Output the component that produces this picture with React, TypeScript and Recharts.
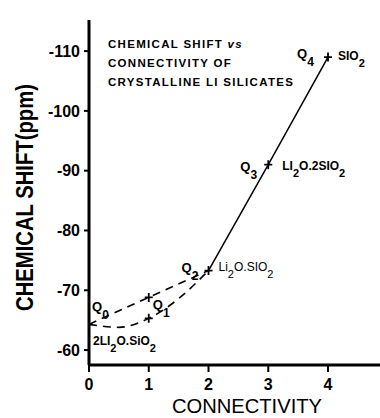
import { ComposedChart, Line, Scatter, XAxis, YAxis } from 'recharts'

const FONT = '"Liberation Sans", Arial, Helvetica, sans-serif'

// x = connectivity, y = 29Si chemical shift (ppm)
const connTicks = [0, 1, 2, 3, 4]
const shiftTicks = [-110, -100, -90, -80, -70, -60]

const upperConn = [0, 1, 2]
const upperShift = [-64.3, -68.8, -73.3]

const lowerConn = [0, 0.5, 1, 1.5, 2]
const lowerShift = [-64.3, -63.8, -65.3, -68.6, -73.3]

const solidConn = [2, 3, 4]
const solidShift = [-73.3, -91, -109]

const pointConn = [0, 1, 1, 2, 3, 4]
const pointShift = [-64.3, -68.8, -65.3, -73.3, -91, -109]

const rows = (xs: number[], ys: number[]) => xs.map((x, i) => ({ x, y: ys[i] }))

// text next to the points; '_' marks a subscript
const notes = [
  { x: 0, y: -64.3, dx: 3, dy: -13, size: 13, weight: 700, parts: ['Q', '_0'] },
  { x: 1, y: -68.8, dx: 4, dy: 12, size: 13, weight: 700, parts: ['Q', '_1'] },
  { x: 2, y: -73.3, dx: -27, dy: 1, size: 13, weight: 700, parts: ['Q', '_2'] },
  { x: 3, y: -91, dx: -28, dy: 6, size: 13, weight: 700, parts: ['Q', '_3'] },
  { x: 4, y: -109, dx: -31, dy: 1, size: 13, weight: 700, parts: ['Q', '_4'] },
  { x: 4, y: -109, dx: 10, dy: 3, size: 12, weight: 700, parts: ['SIO', '_2'] },
  { x: 3, y: -91, dx: 14, dy: 5, size: 12, weight: 700, parts: ['LI', '_2', 'O.2SIO', '_2'] },
  { x: 2, y: -73.3, dx: 10, dy: 0, size: 12, weight: 400, parts: ['Li', '_2', 'O.SIO', '_2'] },
  { x: 0, y: -64.3, dx: 4, dy: 21, size: 12, weight: 700, parts: ['2LI', '_2', 'O.SiO', '_2'] },
]

const titleAt = [{ x: 0, y: -110 }]

function Plus({ cx, cy }: any) {
  if (cx == null || cy == null) return null
  return (
    <path
      d={`M${cx - 4},${cy}H${cx + 4}M${cx},${cy - 4.5}V${cy + 4.5}`}
      stroke="#000"
      strokeWidth={1.8}
      fill="none"
    />
  )
}

function Note({ cx, cy, payload }: any) {
  if (cx == null || !payload) return null
  const sub = Math.round(payload.size * 0.6)
  let shift = 0
  return (
    <text
      x={cx + payload.dx}
      y={cy + payload.dy}
      fontFamily={FONT}
      fontSize={payload.size}
      fontWeight={payload.weight}
      fill="#000"
    >
      {payload.parts.map((p: string, i: number) => {
        const isSub = p.startsWith('_')
        const target = isSub ? sub : 0
        const dy = target - shift
        shift = target
        return (
          <tspan key={i} dy={dy} fontSize={isSub ? payload.size - 1 : payload.size}>
            {isSub ? p.slice(1) : p}
          </tspan>
        )
      })}
    </text>
  )
}

function Title({ cx, cy }: any) {
  if (cx == null) return null
  const x = cx + 19
  return (
    <text x={x} y={cy - 3} fontFamily={FONT} fontSize={11.5} fontWeight={700} letterSpacing={1.3} fill="#000">
      <tspan x={x}>CHEMICAL SHIFT </tspan>
      <tspan fontStyle="italic">vs</tspan>
      <tspan x={x} dy={19}>CONNECTIVITY OF</tspan>
      <tspan x={x} dy={19}>CRYSTALLINE LI SILICATES</tspan>
    </text>
  )
}

function YTitle({ viewBox }: any) {
  const vb = viewBox || { x: 0, y: 20, width: 89, height: 345 }
  const x = vb.x + 33
  const y = vb.y + vb.height / 2 + 5
  return (
    <text
      x={x}
      y={y}
      transform={`rotate(-90 ${x} ${y})`}
      textAnchor="middle"
      fontFamily={FONT}
      fontSize={24}
      fontWeight={700}
      textLength={227}
      lengthAdjust="spacingAndGlyphs"
      fill="#000"
    >
      CHEMICAL SHIFT(ppm)
    </text>
  )
}

function XTitle({ viewBox }: any) {
  const vb = viewBox || { x: 89, y: 365, width: 291, height: 53 }
  return (
    <text
      x={vb.x + 158}
      y={vb.y + 48}
      textAnchor="middle"
      fontFamily={FONT}
      fontSize={20}
      textLength={150}
      lengthAdjust="spacingAndGlyphs"
      fill="#000"
    >
      CONNECTIVITY
    </text>
  )
}

export default function App() {
  const tickStyle = { fontSize: 16, fill: '#000', fontWeight: 700, fontFamily: FONT }
  return (
    <div style={{ position: 'absolute', left: 0, top: 0, background: '#fff' }}>
      <ComposedChart width={380} height={418} margin={{ top: 20, right: 0, bottom: 0, left: 0 }}>
        <XAxis
          xAxisId="top"
          orientation="top"
          type="number"
          dataKey="x"
          domain={[0, 4.87]}
          ticks={connTicks}
          allowDataOverflow
          height={0}
          tickSize={6}
          tickFormatter={() => ''}
          axisLine={{ stroke: '#000', strokeWidth: 2.5 }}
          tickLine={{ stroke: '#000', strokeWidth: 1.5 }}
        />
        <XAxis
          type="number"
          dataKey="x"
          domain={[0, 4.87]}
          ticks={connTicks}
          allowDataOverflow
          height={53}
          tickSize={7}
          tickMargin={7}
          tick={tickStyle}
          axisLine={{ stroke: '#000', strokeWidth: 3 }}
          tickLine={{ stroke: '#000', strokeWidth: 2 }}
          label={<XTitle />}
        />
        <YAxis
          type="number"
          dataKey="y"
          domain={[-115.2, -57.5]}
          reversed
          allowDataOverflow
          ticks={shiftTicks}
          width={89}
          tickSize={5}
          tickMargin={4}
          tick={tickStyle}
          axisLine={{ stroke: '#000', strokeWidth: 3 }}
          tickLine={{ stroke: '#000', strokeWidth: 2 }}
          label={<YTitle />}
        />
        <Line
          data={rows(upperConn, upperShift)}
          dataKey="y"
          type="monotone"
          stroke="#000"
          strokeWidth={1.6}
          strokeDasharray="8 6"
          dot={false}
          isAnimationActive={false}
        />
        <Line
          data={rows(lowerConn, lowerShift)}
          dataKey="y"
          type="monotone"
          stroke="#000"
          strokeWidth={1.6}
          strokeDasharray="8 6"
          dot={false}
          isAnimationActive={false}
        />
        <Line
          data={rows(solidConn, solidShift)}
          dataKey="y"
          type="monotone"
          stroke="#000"
          strokeWidth={1.5}
          dot={false}
          isAnimationActive={false}
        />
        <Scatter data={rows(pointConn, pointShift)} dataKey="y" shape={<Plus />} isAnimationActive={false} />
        <Scatter data={notes} dataKey="y" shape={<Note />} isAnimationActive={false} />
        <Scatter data={titleAt} dataKey="y" shape={<Title />} isAnimationActive={false} />
      </ComposedChart>
    </div>
  )
}
